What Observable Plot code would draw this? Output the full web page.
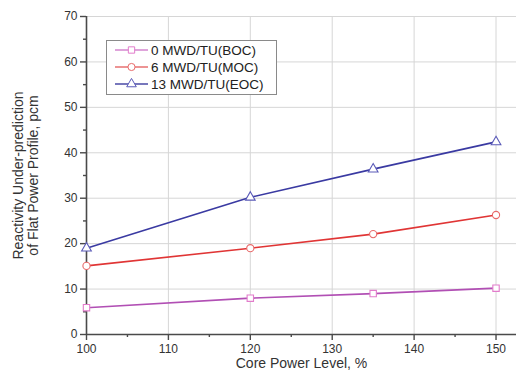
<!DOCTYPE html>
<html>
<head>
<meta charset="utf-8">
<script src="https://cdn.jsdelivr.net/npm/d3@7"></script>
<script src="https://cdn.jsdelivr.net/npm/@observablehq/plot@0.6"></script>
<style>
  html, body { margin: 0; padding: 0; background: #fff; }
  #wrap { position: relative; width: 516px; height: 374px; font-family: "Liberation Sans", Arial, sans-serif; }
  #legend { position: absolute; left: 106px; top: 40px; }
</style>
</head>
<body>
<div id="wrap"></div>
<script>
// Core power level (%) at which each case was evaluated
const powerLevels = [100, 120, 135, 150];

// Reactivity under-prediction of the flat power profile (pcm), per burnup state
const seriesNames = ["0 MWD/TU(BOC)", "6 MWD/TU(MOC)", "13 MWD/TU(EOC)"];
const bocValues = [5.9, 8.0, 9.0, 10.2];
const mocValues = [15.1, 19.0, 22.1, 26.3];
const eocValues = [19.0, 30.2, 36.4, 42.4];

// Axis ticks
const xTicks = [100, 110, 120, 130, 140, 150];
const xMinor = [105, 115, 125, 135, 145];
const yTicks = [0, 10, 20, 30, 40, 50, 60, 70];
const yMinor = [5, 15, 25, 35, 45, 55, 65];

const lineColors = ["#b14fb4", "#e03535", "#3a3aa2"];
const markerColors = ["#e27ccb", "#e86a6a", "#5a5ab8"];
const legendLineColors = ["#d486cf", "#e77070", "#4a4aa6"];
const symbols = ["square", "circle", "triangle"];

const valueSets = [bocValues, mocValues, eocValues];
const rows = seriesNames.flatMap((s, i) =>
  powerLevels.map((p, j) => ({series: s, power: p, value: valueSets[i][j]}))
);

const font = "Liberation Sans, Arial, sans-serif";
const blank = () => "";

const chart = Plot.plot({
  width: 516,
  height: 374,
  marginLeft: 86,
  marginRight: 0,
  marginTop: 16,
  marginBottom: 40,
  style: {fontFamily: font, fontSize: "12px", color: "#333", background: "#fff"},
  x: {domain: [100, 152.5]},
  y: {domain: [0, 70]},
  color: {domain: seriesNames, range: lineColors},
  symbol: {domain: seriesNames, range: symbols},
  marks: [
    Plot.gridX(xTicks, {stroke: "#d6d6d6", strokeOpacity: 1}),
    Plot.gridY(yTicks, {stroke: "#d6d6d6", strokeOpacity: 1}),
    Plot.ruleY([0], {stroke: "#4a4a4a", strokeWidth: 1.6}),
    Plot.ruleX([100], {stroke: "#4a4a4a", strokeWidth: 1.6}),
    Plot.axisX(xTicks, {tickSize: 6, tickPadding: 4, stroke: "#4a4a4a", strokeWidth: 1.4, fontSize: 12, label: null}),
    Plot.axisX(xMinor, {tickSize: 3, tickFormat: blank, stroke: "#4a4a4a", strokeWidth: 1.4, label: null}),
    Plot.axisY(yTicks, {tickSize: 6, tickPadding: 3, stroke: "#4a4a4a", strokeWidth: 1.4, fontSize: 12, label: null}),
    Plot.axisY(yMinor, {tickSize: 3, tickFormat: blank, stroke: "#4a4a4a", strokeWidth: 1.4, label: null}),
    Plot.text(["Core Power Level, %"], {frameAnchor: "bottom", dy: 33, fontSize: 14, fill: "#333"}),
    Plot.text(["Reactivity Under-prediction\nof Flat Power Profile, pcm"], {
      frameAnchor: "left", rotate: -90, dx: -61, fontSize: 14, lineHeight: 1.1,
      textAnchor: "middle", lineAnchor: "middle", fill: "#333"
    }),
    Plot.line(rows, {x: "power", y: "value", z: "series", stroke: "series", strokeWidth: 1.6}),
    Plot.dot(rows, {
      x: "power", y: "value", symbol: "series", r: 3.6, fill: "white",
      stroke: d => markerColors[seriesNames.indexOf(d.series)], strokeWidth: 1.1
    })
  ]
});

const wrap = document.getElementById("wrap");
wrap.appendChild(chart);

// Legend box drawn on top of the plot area
const lg = d3.select(wrap).append("svg")
  .attr("id", "legend")
  .attr("width", 172).attr("height", 56);
lg.append("rect").attr("x", 0.5).attr("y", 0.5).attr("width", 170).attr("height", 54)
  .attr("fill", "white").attr("stroke", "#8a8a8a").attr("stroke-width", 1);
const sym = {square: d3.symbolSquare, circle: d3.symbolCircle, triangle: d3.symbolTriangle};
seriesNames.forEach((s, i) => {
  const cy = 10 + i * 17;
  lg.append("line").attr("x1", 9).attr("x2", 42).attr("y1", cy).attr("y2", cy)
    .attr("stroke", legendLineColors[i]).attr("stroke-width", 1.6);
  lg.append("path").attr("d", d3.symbol(sym[symbols[i]], 40)())
    .attr("transform", `translate(25.5,${cy})`)
    .attr("fill", "white").attr("stroke", markerColors[i]).attr("stroke-width", 1);
  lg.append("text").attr("x", 45).attr("y", cy).attr("dy", "0.36em")
    .attr("font-family", font).attr("font-size", 13.5).attr("fill", "#222").text(s);
});
</script>
</body>
</html>
